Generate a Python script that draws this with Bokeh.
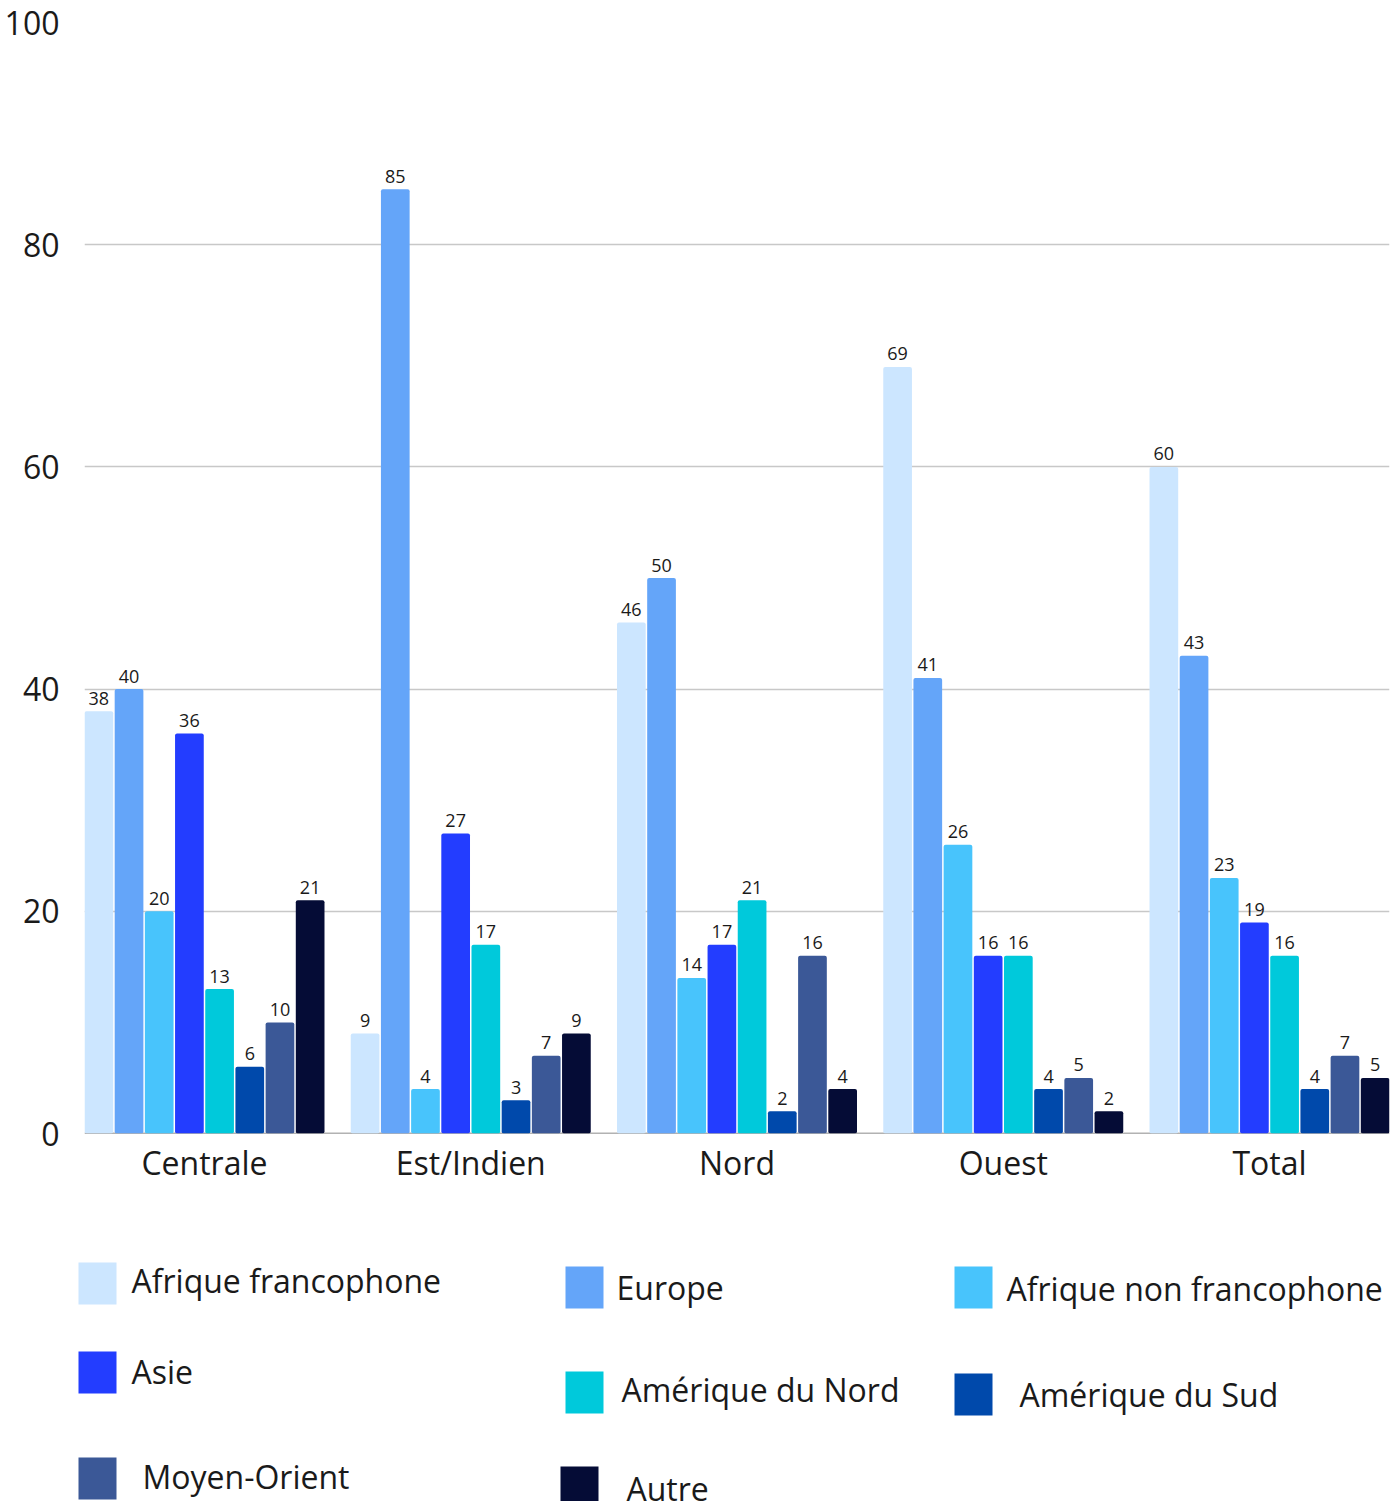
from bokeh.plotting import figure
from bokeh.layouts import column, row
from bokeh.models import ColumnDataSource, FixedTicker, Range1d, Span
from bokeh.core.properties import value
from bokeh.embed import file_html
from bokeh.resources import INLINE

# Regions on the x axis
categories = ["Centrale", "Est/Indien", "Nord", "Ouest", "Total"]

# Share of respondents per origin, by region
series_names = [
    "Afrique francophone",
    "Europe",
    "Afrique non francophone",
    "Asie",
    "Amérique du Nord",
    "Amérique du Sud",
    "Moyen-Orient",
    "Autre",
]
afrique_francophone = [38, 9, 46, 69, 60]
europe = [40, 85, 50, 41, 43]
afrique_non_francophone = [20, 4, 14, 26, 23]
asie = [36, 27, 17, 16, 19]
amerique_du_nord = [13, 17, 21, 16, 16]
amerique_du_sud = [6, 3, 2, 4, 4]
moyen_orient = [10, 7, 16, 5, 7]
autre = [21, 9, 4, 2, 5]
series_values = [
    afrique_francophone, europe, afrique_non_francophone, asie,
    amerique_du_nord, amerique_du_sud, moyen_orient, autre,
]
colors = ["#cce6ff", "#64a5f9", "#48c4fc", "#233dff",
          "#00c9db", "#0049ab", "#3b5897", "#050c36"]

y_ticks = [0, 20, 40, 60, 80, 100]

FONT = "Open Sans"
TEXT = "#1a1a1a"

# Bar geometry, in units of one category slot
BAR_STEP = 0.11337
BAR_W = 0.1078
half_span = 3.5 * BAR_STEP + BAR_W / 2

p = figure(
    width=1398, height=1220,
    x_range=Range1d(-half_span, len(categories) - 1 + half_span),
    y_range=Range1d(0, 100),
    output_backend="svg", toolbar_location=None,
    min_border_left=84, min_border_right=9, min_border_top=22, min_border_bottom=87,
)
p.outline_line_color = None
p.background_fill_color = "white"
p.border_fill_color = "white"

# Grid
p.xgrid.grid_line_color = None
p.ygrid.ticker = FixedTicker(ticks=y_ticks)
p.ygrid.grid_line_color = "#c8c8c8"
p.ygrid.grid_line_width = 1.5

# Y axis: labels only
p.yaxis.ticker = FixedTicker(ticks=y_ticks)
p.yaxis.axis_line_color = None
p.yaxis.major_tick_line_color = None
p.yaxis.minor_tick_line_color = None
p.yaxis.major_label_standoff = 19
p.yaxis.major_label_text_font = FONT
p.yaxis.major_label_text_font_size = "32px"
p.yaxis.major_label_text_color = TEXT

# X axis: category names under each group
p.xaxis.ticker = FixedTicker(ticks=list(range(len(categories))))
p.xaxis.major_label_overrides = {i: c for i, c in enumerate(categories)}
p.xaxis.axis_line_color = None
p.xaxis.major_tick_line_color = None
p.xaxis.minor_tick_line_color = None
p.xaxis.major_label_standoff = 1
p.xaxis.major_label_text_font = FONT
p.xaxis.major_label_text_font_size = "32px"
p.xaxis.major_label_text_color = TEXT

# Baseline drawn beneath the bars
p.add_layout(Span(location=0, dimension="width", line_color="#666666",
                  line_width=1.3, level="underlay"))

for k, (name, vals, col) in enumerate(zip(series_names, series_values, colors)):
    offset = (k - 3.5) * BAR_STEP
    src = ColumnDataSource(dict(
        x=[i + offset for i in range(len(categories))],
        top=vals,
        label=[str(v) for v in vals],
    ))
    p.vbar(x="x", top="top", bottom=0, width=BAR_W, source=src,
           fill_color=col, line_color=None, border_radius=2)
    p.text(x="x", y="top", text="label", source=src,
           text_align="center", text_baseline="alphabetic", y_offset=-13,
           text_font=value(FONT), text_font_size="18px", text_color=TEXT)

# Legend panel, laid out in pixel coordinates
leg = figure(
    width=1398, height=281,
    x_range=Range1d(0, 1398), y_range=Range1d(1501, 1220),
    output_backend="svg", toolbar_location=None,
    min_border=0,
)
leg.axis.visible = False
leg.grid.visible = False
leg.outline_line_color = None
leg.border_fill_color = "white"

swatch_left = [78, 565, 954, 78, 565, 954, 78, 560]
swatch_top = [1262, 1266, 1266, 1351, 1371, 1373, 1457, 1466]
label_x = [131, 616, 1006, 131, 621, 1019, 142, 626]
label_y = [1280, 1287, 1288, 1371, 1389, 1394, 1476, 1488]

leg.quad(left=swatch_left,
         right=[x + 38 for x in swatch_left],
         top=swatch_top,
         bottom=[y + 42 for y in swatch_top],
         fill_color=colors, line_color=None)
leg.text(x=label_x, y=label_y, text=series_names,
         text_align="left", text_baseline="alphabetic",
         text_font=value(FONT), text_font_size="32px", text_color=TEXT)

layout = column(p, row(leg), spacing=0)
open("out.html", "w").write(file_html(layout, INLINE))
